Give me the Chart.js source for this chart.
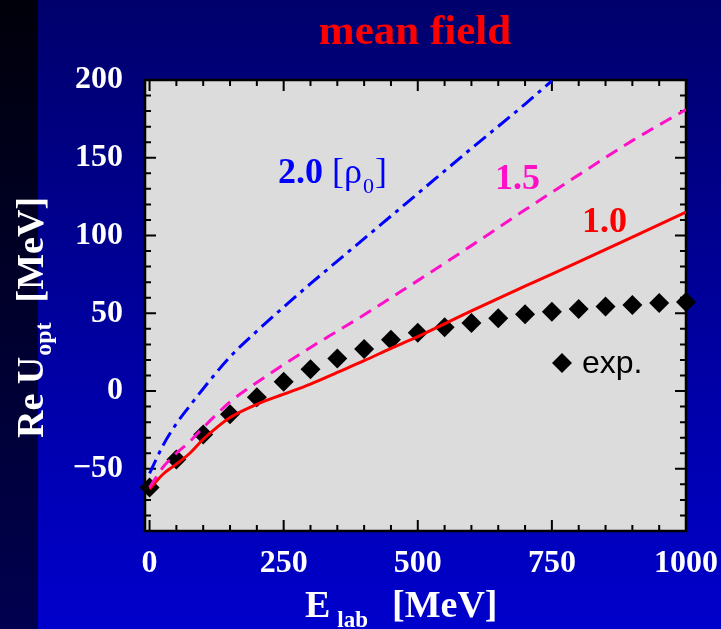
<!DOCTYPE html>
<html>
<head>
<meta charset="utf-8">
<script src="https://cdn.jsdelivr.net/npm/chart.js@4/dist/chart.umd.min.js"></script>
<style>
  html, body { margin: 0; padding: 0; background: #000070; }
  #chart { display: block; }
</style>
</head>
<body>
<canvas id="chart" width="721" height="629"></canvas>
<script>
// measured optical potential (diamonds)
var expE = [0, 50, 100, 150, 200, 250, 300, 350, 400, 450, 500, 550, 600, 650, 700, 750, 800, 850, 900, 950, 1000];
var expU = [-62, -44, -28, -15, -4, 6, 14, 21, 27, 33, 37.5, 41, 43.8, 46.8, 49.4, 51, 52.8, 54.3, 55.4, 56.6, 57.3];

// mean field at rho = 1.0 rho0
var rho10E = [0, 25, 50, 75, 100, 125, 150, 200, 250, 300, 350, 400, 450, 500, 600, 700, 800, 900, 1000];
var rho10U = [-63, -53.5, -47, -40, -31, -23.5, -17, -8.5, -2, 4.5, 12, 19.5, 27.5, 35, 51.5, 67.5, 83, 99, 115];

// rho = 1.5 rho0
var rho15E = [0, 25, 50, 75, 100, 150, 200, 250, 300, 350, 400, 450, 500, 600, 700, 800, 900, 1000];
var rho15U = [-62, -49, -40, -32.5, -23.5, -7, 5.5, 17, 28, 38.5, 49, 60, 71, 93.5, 116.5, 139, 161, 181];

// rho = 2.0 rho0
var rho20E = [0, 25, 50, 75, 100, 150, 200, 250, 300, 400, 500, 600, 700, 750];
var rho20U = [-53, -35, -21, -9.5, 1.5, 22, 38.5, 54, 69, 98, 127, 156, 184.5, 199.5];

var xTickLabels = [0, 250, 500, 750, 1000];
var yTickLabels = [-50, 0, 50, 100, 150, 200];

function pts(xs, ys) {
    return xs.map(function (x, i) { return { x: x, y: ys[i] }; });
}

var SERIF = '"Liberation Serif", "Times New Roman", serif';
var SANS = '"Liberation Sans", Arial, sans-serif';

// draws a run of text pieces one after another (for subscripts)
function richText(ctx, parts, x, y) {
    parts.forEach(function (p) {
        ctx.font = p.font;
        ctx.fillStyle = p.color;
        ctx.fillText(p.t, x, y + (p.dy || 0));
        x += ctx.measureText(p.t).width + (p.gap || 0);
    });
}

var backdrop = {
    id: 'backdrop',
    beforeDraw: function (chart) {
        var ctx = chart.ctx, w = chart.width, h = chart.height, a = chart.chartArea;
        ctx.save();
        var g = ctx.createLinearGradient(0, 0, 0, h);
        g.addColorStop(0, '#00006c');
        g.addColorStop(1, '#0000cc');
        ctx.fillStyle = g;
        ctx.fillRect(0, 0, w, h);
        var s = ctx.createLinearGradient(0, 0, 0, h);
        s.addColorStop(0, '#00000a');
        s.addColorStop(1, '#000050');
        ctx.fillStyle = s;
        ctx.fillRect(0, 0, 38, h);
        ctx.fillStyle = '#dcdcdc';
        ctx.fillRect(a.left, a.top, a.right - a.left, a.bottom - a.top);
        ctx.restore();
    }
};

// frame with inward ticks on all four sides
var frame = {
    id: 'frame',
    beforeDatasetsDraw: function (chart) {
        var ctx = chart.ctx, a = chart.chartArea;
        var xs = chart.scales.x, ys = chart.scales.y;
        ctx.save();
        ctx.strokeStyle = '#000';
        ctx.lineWidth = 2;
        ctx.beginPath();
        xs.ticks.forEach(function (t) {
            var px = xs.getPixelForValue(t.value);
            var len = t.value % 250 === 0 ? 11 : 6;
            ctx.moveTo(px, a.bottom); ctx.lineTo(px, a.bottom - len);
            ctx.moveTo(px, a.top); ctx.lineTo(px, a.top + len);
        });
        ys.ticks.forEach(function (t) {
            var py = ys.getPixelForValue(t.value);
            var len = t.value % 50 === 0 ? 11 : 6;
            ctx.moveTo(a.left, py); ctx.lineTo(a.left + len, py);
            ctx.moveTo(a.right, py); ctx.lineTo(a.right - len, py);
        });
        ctx.stroke();
        ctx.lineWidth = 2.5;
        ctx.strokeRect(a.left, a.top, a.right - a.left, a.bottom - a.top);
        ctx.restore();
    }
};

var labels = {
    id: 'labels',
    afterDraw: function (chart) {
        var ctx = chart.ctx;
        ctx.save();
        ctx.textBaseline = 'alphabetic';
        ctx.textAlign = 'left';

        // title
        ctx.font = 'bold 43px ' + SERIF;
        ctx.fillStyle = '#ff0000';
        ctx.textAlign = 'center';
        ctx.fillText('mean field', 415, 44);
        ctx.textAlign = 'left';

        // x axis title
        richText(ctx, [
            { t: 'E', font: 'bold 38px ' + SERIF, color: '#fff', gap: 7 },
            { t: 'lab', font: 'bold 23px ' + SERIF, color: '#fff', dy: 10, gap: 24 },
            { t: '[MeV]', font: 'bold 38px ' + SERIF, color: '#fff' }
        ], 305, 617);

        // y axis title
        ctx.save();
        ctx.translate(43, 438);
        ctx.rotate(-Math.PI / 2);
        richText(ctx, [
            { t: 'Re U', font: 'bold 38px ' + SERIF, color: '#fff', gap: 1 },
            { t: 'opt', font: 'bold 24px ' + SERIF, color: '#fff', dy: 8, gap: 20 },
            { t: '[MeV]', font: 'bold 38px ' + SERIF, color: '#fff' }
        ], 0, 0);
        ctx.restore();

        // curve labels
        richText(ctx, [
            { t: '2.0 ', font: 'bold 36px ' + SERIF, color: '#0000ff' },
            { t: '[\u03c1', font: '36px ' + SERIF, color: '#0000ff', gap: 1 },
            { t: '0', font: '22px ' + SERIF, color: '#0000ff', dy: 10, gap: 1 },
            { t: ']', font: '36px ' + SERIF, color: '#0000ff' }
        ], 278, 183);
        ctx.font = 'bold 36px ' + SERIF;
        ctx.fillStyle = '#ff10c8';
        ctx.fillText('1.5', 495, 189);
        ctx.fillStyle = '#ff0000';
        ctx.fillText('1.0', 582, 232);

        // legend for the data points
        var lx = 562, ly = 363, r = 10;
        ctx.fillStyle = '#000';
        ctx.beginPath();
        ctx.moveTo(lx - r, ly); ctx.lineTo(lx, ly - r);
        ctx.lineTo(lx + r, ly); ctx.lineTo(lx, ly + r);
        ctx.closePath();
        ctx.fill();
        ctx.font = '32px ' + SANS;
        ctx.fillText('exp.', 582, 373);
        ctx.restore();
    }
};

var ctx = document.getElementById('chart').getContext('2d');
new Chart(ctx, {
    type: 'scatter',
    data: {
        datasets: [
            {
                label: '2.0',
                data: pts(rho20E, rho20U),
                showLine: true,
                borderColor: '#0000ff',
                borderWidth: 3,
                borderDash: [15, 6, 4, 6],
                pointRadius: 0,
                cubicInterpolationMode: 'monotone'
            },
            {
                label: '1.5',
                data: pts(rho15E, rho15U),
                showLine: true,
                borderColor: '#ff10c8',
                borderWidth: 3,
                borderDash: [13, 8],
                pointRadius: 0,
                cubicInterpolationMode: 'monotone'
            },
            {
                label: '1.0',
                data: pts(rho10E, rho10U),
                showLine: true,
                borderColor: '#ff0000',
                borderWidth: 3,
                pointRadius: 0,
                cubicInterpolationMode: 'monotone'
            },
            {
                label: 'exp.',
                data: pts(expE, expU),
                pointStyle: 'rectRot',
                pointRadius: 10,
                pointHoverRadius: 10,
                backgroundColor: '#000',
                borderWidth: 0,
                clip: false
            }
        ]
    },
    options: {
        responsive: false,
        animation: false,
        devicePixelRatio: 1,
        layout: { padding: { top: 80, right: 35, left: 0, bottom: 0 } },
        plugins: {
            legend: { display: false },
            tooltip: { enabled: false }
        },
        scales: {
            x: {
                type: 'linear',
                min: -8.5,
                max: 1000,
                afterFit: function (axis) {
                    axis.height = 98;
                    axis.paddingLeft = 0;
                    axis.paddingRight = 0;
                },
                grid: { display: false, drawTicks: false },
                border: { display: false },
                ticks: {
                    stepSize: 50,
                    includeBounds: false,
                    autoSkip: false,
                    maxRotation: 0,
                    padding: 14,
                    color: '#fff',
                    font: { family: SERIF, size: 32, weight: 'bold' },
                    callback: function (v) { return xTickLabels.indexOf(v) >= 0 ? String(v) : ''; }
                }
            },
            y: {
                type: 'linear',
                min: -90,
                max: 200,
                afterFit: function (axis) {
                    axis.width = 145;
                    axis.paddingTop = 0;
                    axis.paddingBottom = 0;
                },
                grid: { display: false, drawTicks: false },
                border: { display: false },
                ticks: {
                    stepSize: 10,
                    autoSkip: false,
                    padding: 22,
                    color: '#fff',
                    font: { family: SERIF, size: 32, weight: 'bold' },
                    callback: function (v) {
                        if (yTickLabels.indexOf(v) < 0) return '';
                        return v < 0 ? '\u2212' + Math.abs(v) : String(v);
                    }
                }
            }
        }
    },
    plugins: [backdrop, frame, labels]
});
</script>
</body>
</html>
